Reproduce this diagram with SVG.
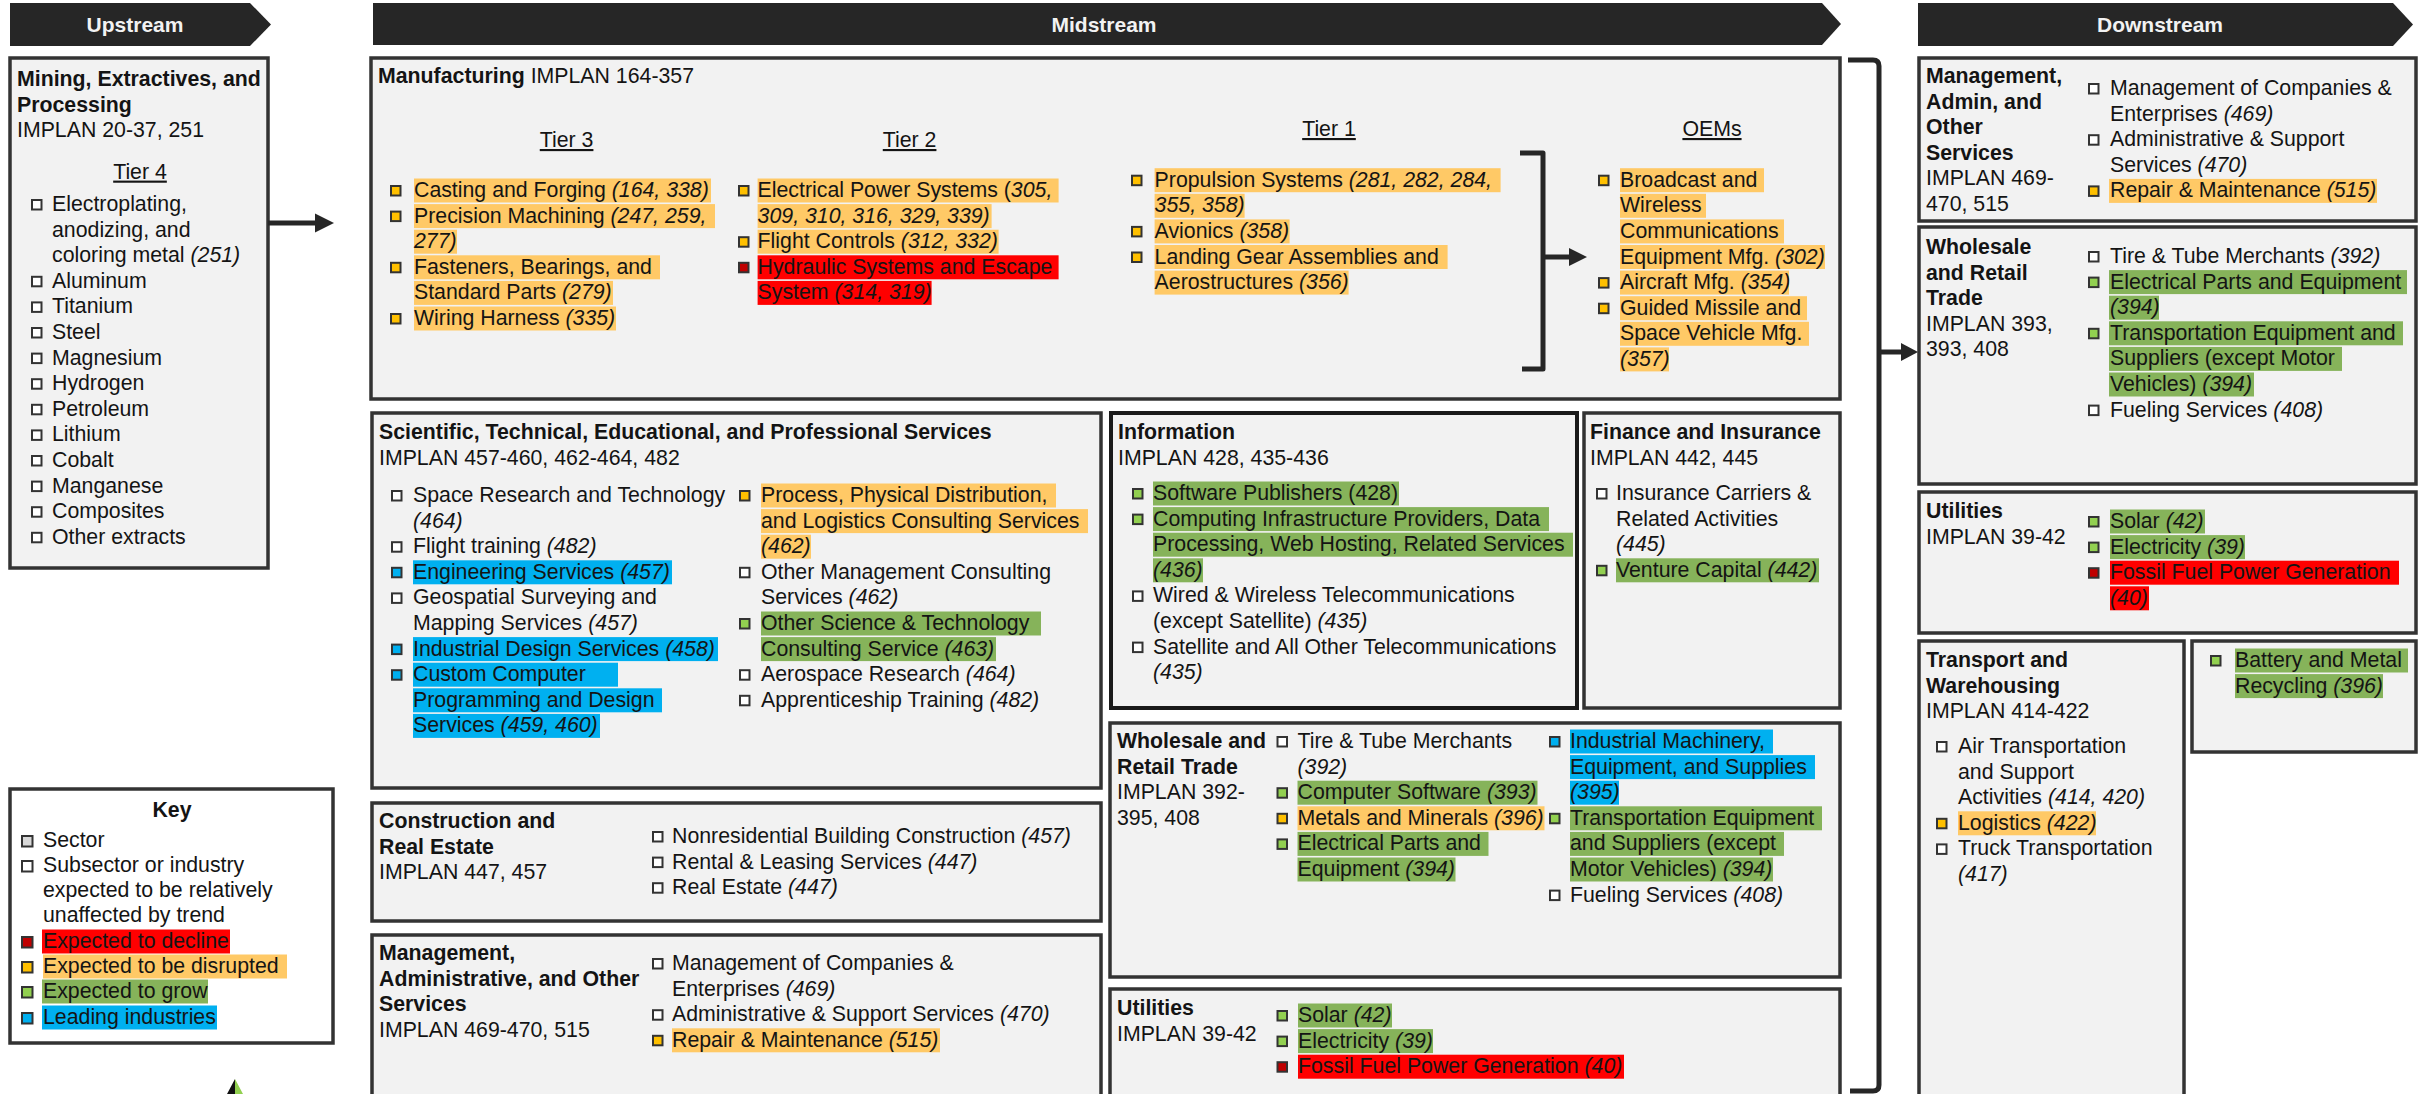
<svg xmlns="http://www.w3.org/2000/svg" width="2425" height="1094" viewBox="0 0 2425 1094">
<style>
text{font-family:"Liberation Sans",Arial,sans-serif;font-size:21.3px;fill:#141414}
.b{font-weight:bold}
.i{font-style:italic}
.u{text-decoration:underline}
.hd{font-weight:bold;font-size:21px;fill:#F2F2F2;text-anchor:middle}
.mid{text-anchor:middle}
.box{fill:#F2F2F2;stroke:#333;stroke-width:3.5}
.boxk{fill:#F2F2F2;stroke:#1a1a1a;stroke-width:4}
.hdr{fill:#262626}
.ho{fill:#FFC966}.hg{fill:#86B35A}.hb{fill:#00B0F0}.hr{fill:#FF0000}
.bu{stroke:#333;stroke-width:2}
.bw{fill:#fff}.bo{fill:#FFC000}.bg{fill:#92D050}.br{fill:#C00000}.bb{fill:#00B0F0}.bs{fill:#D9D9D9}
.con{fill:none;stroke:#262626;stroke-width:5;stroke-linejoin:round}
.ah{fill:#262626}
</style>

<g id="headers">
<polygon class="hdr" points="10,3 250,3 271,24.5 250,46 10,46"/>
<text class="hd" x="135" y="32">Upstream</text>
<polygon class="hdr" points="373,3 1822,3 1841,24 1822,45 373,45"/>
<text class="hd" x="1104" y="32">Midstream</text>
<polygon class="hdr" points="1918,3 2393,3 2413,24.5 2393,46 1918,46"/>
<text class="hd" x="2160" y="32">Downstream</text>
</g>

<g id="upstream-mining">
<rect class="box" x="10" y="58" width="258" height="510"/>
<text class="b" x="17" y="86">Mining, Extractives, and</text>
<text class="b" x="17" y="111.6">Processing</text>
<text x="17" y="137.2">IMPLAN 20-37, 251</text>
<text class="mid u" x="140" y="178.6">Tier 4</text>
<rect class="bu bw" x="32" y="200" width="9.5" height="9.5"/>
<text x="52" y="211">Electroplating,</text>
<text x="52" y="236.6">anodizing, and</text>
<text x="52" y="262.2">coloring metal <tspan class="i">(251)</tspan></text>
<rect class="bu bw" x="32" y="276.8" width="9.5" height="9.5"/>
<text x="52" y="287.8">Aluminum</text>
<rect class="bu bw" x="32" y="302.4" width="9.5" height="9.5"/>
<text x="52" y="313.4">Titanium</text>
<rect class="bu bw" x="32" y="328" width="9.5" height="9.5"/>
<text x="52" y="339">Steel</text>
<rect class="bu bw" x="32" y="353.6" width="9.5" height="9.5"/>
<text x="52" y="364.6">Magnesium</text>
<rect class="bu bw" x="32" y="379.2" width="9.5" height="9.5"/>
<text x="52" y="390.2">Hydrogen</text>
<rect class="bu bw" x="32" y="404.8" width="9.5" height="9.5"/>
<text x="52" y="415.8">Petroleum</text>
<rect class="bu bw" x="32" y="430.4" width="9.5" height="9.5"/>
<text x="52" y="441.4">Lithium</text>
<rect class="bu bw" x="32" y="456" width="9.5" height="9.5"/>
<text x="52" y="467">Cobalt</text>
<rect class="bu bw" x="32" y="481.6" width="9.5" height="9.5"/>
<text x="52" y="492.6">Manganese</text>
<rect class="bu bw" x="32" y="507.2" width="9.5" height="9.5"/>
<text x="52" y="518.2">Composites</text>
<rect class="bu bw" x="32" y="532.8" width="9.5" height="9.5"/>
<text x="52" y="543.8">Other extracts</text>
</g>

<g id="key">
<rect x="10" y="789" width="323" height="254" fill="#fff" stroke="#333" stroke-width="3.5"/>
<text class="b mid" x="172" y="817">Key</text>
<rect class="bu bs" x="22" y="836" width="10.5" height="10.5"/>
<text x="43" y="847">Sector</text>
<rect class="bu bw" x="22" y="861" width="10.5" height="10.5"/>
<text x="43" y="872">Subsector or industry</text>
<text x="43" y="897">expected to be relatively</text>
<text x="43" y="922">unaffected by trend</text>
<rect class="hr" x="42" y="929.5" width="188" height="24"/>
<rect class="bu br" x="22" y="937" width="10.5" height="10.5"/>
<text x="43" y="948">Expected to decline</text>
<rect class="ho" x="43" y="954.5" width="244" height="24"/>
<rect class="bu bo" x="22" y="962" width="10.5" height="10.5"/>
<text x="43" y="973">Expected to be disrupted</text>
<rect class="hg" x="42" y="979.5" width="166" height="24"/>
<rect class="bu bg" x="22" y="987" width="10.5" height="10.5"/>
<text x="43" y="998">Expected to grow</text>
<rect class="hb" x="42" y="1005.5" width="175" height="24"/>
<rect class="bu bb" x="22" y="1013" width="10.5" height="10.5"/>
<text x="43" y="1024">Leading industries</text>
</g>

<g id="marker-arrow">
<polygon points="235,1079 227,1094 235,1094" fill="#111"/>
<polygon points="235,1079 243,1094 235,1094" fill="#92D050"/>
</g>

<g id="manufacturing">
<rect class="box" x="371" y="58" width="1469" height="341"/>
<text x="378" y="83"><tspan class="b">Manufacturing</tspan> IMPLAN 164-357</text>
<text class="mid u" x="566.6" y="147">Tier 3</text>
<text class="mid u" x="909.6" y="147">Tier 2</text>
<text class="mid u" x="1329" y="136">Tier 1</text>
<text class="mid u" x="1712" y="136">OEMs</text>
<!-- Tier 3 -->
<rect class="ho" x="414" y="178.5" width="297" height="24"/>
<rect class="ho" x="414" y="204.1" width="301" height="24"/>
<rect class="ho" x="414" y="229.7" width="43" height="24"/>
<rect class="ho" x="414" y="255.3" width="246" height="24"/>
<rect class="ho" x="414" y="280.9" width="199" height="24"/>
<rect class="ho" x="414" y="306.5" width="202" height="24"/>
<rect class="bu bo" x="391" y="186" width="9.5" height="9.5"/>
<text x="414" y="197">Casting and Forging <tspan class="i">(164, 338)</tspan></text>
<rect class="bu bo" x="391" y="211.6" width="9.5" height="9.5"/>
<text x="414" y="222.6">Precision Machining <tspan class="i">(247, 259,</tspan></text>
<text class="i" x="414" y="248.2">277)</text>
<rect class="bu bo" x="391" y="262.8" width="9.5" height="9.5"/>
<text x="414" y="273.8">Fasteners, Bearings, and</text>
<text x="414" y="299.4">Standard Parts <tspan class="i">(279)</tspan></text>
<rect class="bu bo" x="391" y="314" width="9.5" height="9.5"/>
<text x="414" y="325">Wiring Harness <tspan class="i">(335)</tspan></text>
<!-- Tier 2 -->
<rect class="ho" x="757.6" y="178.5" width="301" height="24"/>
<rect class="ho" x="757.6" y="204.1" width="234" height="24"/>
<rect class="ho" x="757.6" y="229.7" width="241" height="24"/>
<rect class="hr" x="757.6" y="255.3" width="301" height="24"/>
<rect class="hr" x="757.6" y="280.9" width="174" height="24"/>
<rect class="bu bo" x="739" y="186" width="9.5" height="9.5"/>
<text x="757.6" y="197">Electrical Power Systems (<tspan class="i">305,</tspan></text>
<text class="i" x="757.6" y="222.6">309, 310, 316, 329, 339)</text>
<rect class="bu bo" x="739" y="237.2" width="9.5" height="9.5"/>
<text x="757.6" y="248.2">Flight Controls <tspan class="i">(312, 332)</tspan></text>
<rect class="bu br" x="739" y="262.8" width="9.5" height="9.5"/>
<text x="757.6" y="273.8">Hydraulic Systems and Escape</text>
<text x="757.6" y="299.4">System <tspan class="i">(314, 319)</tspan></text>
<!-- Tier 1 -->
<rect class="ho" x="1154.6" y="168.2" width="346" height="24"/>
<rect class="ho" x="1154.6" y="193.8" width="90" height="24"/>
<rect class="ho" x="1154.6" y="219.4" width="135" height="24"/>
<rect class="ho" x="1154.6" y="245" width="293" height="24"/>
<rect class="ho" x="1154.6" y="270.6" width="194" height="24"/>
<rect class="bu bo" x="1132" y="175.7" width="9.5" height="9.5"/>
<text x="1154.6" y="186.7">Propulsion Systems <tspan class="i">(281, 282, 284,</tspan></text>
<text class="i" x="1154.6" y="212.3">355, 358)</text>
<rect class="bu bo" x="1132" y="226.9" width="9.5" height="9.5"/>
<text x="1154.6" y="237.9">Avionics <tspan class="i">(358)</tspan></text>
<rect class="bu bo" x="1132" y="252.5" width="9.5" height="9.5"/>
<text x="1154.6" y="263.5">Landing Gear Assemblies and</text>
<text x="1154.6" y="289.1">Aerostructures <tspan class="i">(356)</tspan></text>
<!-- OEMs -->
<rect class="ho" x="1620" y="168.2" width="144" height="24"/>
<rect class="ho" x="1620" y="193.8" width="86" height="24"/>
<rect class="ho" x="1620" y="219.4" width="164" height="24"/>
<rect class="ho" x="1620" y="245" width="205" height="24"/>
<rect class="ho" x="1620" y="270.6" width="169" height="24"/>
<rect class="ho" x="1620" y="296.2" width="187" height="24"/>
<rect class="ho" x="1620" y="321.8" width="189" height="24"/>
<rect class="ho" x="1620" y="347.4" width="49" height="24"/>
<rect class="bu bo" x="1599" y="175.7" width="9.5" height="9.5"/>
<text x="1620" y="186.7">Broadcast and</text>
<text x="1620" y="212.3">Wireless</text>
<text x="1620" y="237.9">Communications</text>
<text x="1620" y="263.5">Equipment Mfg. <tspan class="i">(302)</tspan></text>
<rect class="bu bo" x="1599" y="278.1" width="9.5" height="9.5"/>
<text x="1620" y="289.1">Aircraft Mfg. <tspan class="i">(354)</tspan></text>
<rect class="bu bo" x="1599" y="303.7" width="9.5" height="9.5"/>
<text x="1620" y="314.7">Guided Missile and</text>
<text x="1620" y="340.3">Space Vehicle Mfg.</text>
<text class="i" x="1620" y="365.9">(357)</text>
</g>

<g id="sci-tech">
<rect class="box" x="372" y="413" width="729" height="375"/>
<text class="b" x="379" y="439">Scientific, Technical, Educational, and Professional Services</text>
<text x="379" y="465">IMPLAN 457-460, 462-464, 482</text>
<rect class="hb" x="413" y="560.3" width="259" height="24"/>
<rect class="hb" x="413" y="637.1" width="305" height="24"/>
<rect class="hb" x="413" y="662.7" width="205" height="24"/>
<rect class="hb" x="413" y="688.3" width="249" height="24"/>
<rect class="hb" x="413" y="713.9" width="187" height="24"/>
<rect class="ho" x="761" y="483.5" width="295" height="24"/>
<rect class="ho" x="761" y="509.1" width="327" height="24"/>
<rect class="ho" x="761" y="534.7" width="50" height="24"/>
<rect class="hg" x="761" y="611.5" width="280" height="24"/>
<rect class="hg" x="761" y="637.1" width="235" height="24"/>
<rect class="bu bw" x="392" y="491" width="9.5" height="9.5"/>
<text x="413" y="502">Space Research and Technology</text>
<text class="i" x="413" y="527.6">(464)</text>
<rect class="bu bw" x="392" y="542.2" width="9.5" height="9.5"/>
<text x="413" y="553.2">Flight training <tspan class="i">(482)</tspan></text>
<rect class="bu bb" x="392" y="567.8" width="9.5" height="9.5"/>
<text x="413" y="578.8">Engineering Services <tspan class="i">(457)</tspan></text>
<rect class="bu bw" x="392" y="593.4" width="9.5" height="9.5"/>
<text x="413" y="604.4">Geospatial Surveying and</text>
<text x="413" y="630">Mapping Services <tspan class="i">(457)</tspan></text>
<rect class="bu bb" x="392" y="644.6" width="9.5" height="9.5"/>
<text x="413" y="655.6">Industrial Design Services <tspan class="i">(458)</tspan></text>
<rect class="bu bb" x="392" y="670.2" width="9.5" height="9.5"/>
<text x="413" y="681.2">Custom Computer</text>
<text x="413" y="706.8">Programming and Design</text>
<text x="413" y="732.4">Services <tspan class="i">(459, 460)</tspan></text>
<rect class="bu bo" x="740" y="491" width="9.5" height="9.5"/>
<text x="761" y="502">Process, Physical Distribution,</text>
<text x="761" y="527.6">and Logistics Consulting Services</text>
<text class="i" x="761" y="553.2">(462)</text>
<rect class="bu bw" x="740" y="567.8" width="9.5" height="9.5"/>
<text x="761" y="578.8">Other Management Consulting</text>
<text x="761" y="604.4">Services <tspan class="i">(462)</tspan></text>
<rect class="bu bg" x="740" y="619" width="9.5" height="9.5"/>
<text x="761" y="630">Other Science &amp; Technology</text>
<text x="761" y="655.6">Consulting Service <tspan class="i">(463)</tspan></text>
<rect class="bu bw" x="740" y="670.2" width="9.5" height="9.5"/>
<text x="761" y="681.2">Aerospace Research <tspan class="i">(464)</tspan></text>
<rect class="bu bw" x="740" y="695.8" width="9.5" height="9.5"/>
<text x="761" y="706.8">Apprenticeship Training <tspan class="i">(482)</tspan></text>
</g>

<g id="information">
<rect class="boxk" x="1111" y="413" width="466" height="295"/>
<text class="b" x="1118" y="439">Information</text>
<text x="1118" y="465">IMPLAN 428, 435-436</text>
<rect class="hg" x="1153" y="481.5" width="246" height="24"/>
<rect class="hg" x="1153" y="507.1" width="396" height="24"/>
<rect class="hg" x="1153" y="532.7" width="420" height="24"/>
<rect class="hg" x="1153" y="558.3" width="50" height="24"/>
<rect class="bu bg" x="1133" y="489" width="9.5" height="9.5"/>
<text x="1153" y="500">Software Publishers (428)</text>
<rect class="bu bg" x="1133" y="514.6" width="9.5" height="9.5"/>
<text x="1153" y="525.6">Computing Infrastructure Providers, Data</text>
<text x="1153" y="551.2">Processing, Web Hosting, Related Services</text>
<text class="i" x="1153" y="576.8">(436)</text>
<rect class="bu bw" x="1133" y="591.4" width="9.5" height="9.5"/>
<text x="1153" y="602.4">Wired &amp; Wireless Telecommunications</text>
<text x="1153" y="628">(except Satellite) <tspan class="i">(435)</tspan></text>
<rect class="bu bw" x="1133" y="642.6" width="9.5" height="9.5"/>
<text x="1153" y="653.6">Satellite and All Other Telecommunications</text>
<text class="i" x="1153" y="679.2">(435)</text>
</g>

<g id="finance">
<rect class="box" x="1584" y="413" width="256" height="295"/>
<text class="b" x="1590" y="439">Finance and Insurance</text>
<text x="1590" y="465">IMPLAN 442, 445</text>
<rect class="hg" x="1616" y="558.3" width="203" height="24"/>
<rect class="bu bw" x="1597" y="489" width="9.5" height="9.5"/>
<text x="1616" y="500">Insurance Carriers &amp;</text>
<text x="1616" y="525.6">Related Activities</text>
<text class="i" x="1616" y="551.2">(445)</text>
<rect class="bu bg" x="1597" y="565.8" width="9.5" height="9.5"/>
<text x="1616" y="576.8">Venture Capital <tspan class="i">(442)</tspan></text>
</g>

<g id="construction">
<rect class="box" x="372" y="803" width="729" height="118"/>
<text class="b" x="379" y="828">Construction and</text>
<text class="b" x="379" y="853.6">Real Estate</text>
<text x="379" y="879.2">IMPLAN 447, 457</text>
<rect class="bu bw" x="653" y="832" width="9.5" height="9.5"/>
<text x="672" y="843">Nonresidential Building Construction <tspan class="i">(457)</tspan></text>
<rect class="bu bw" x="653" y="857.6" width="9.5" height="9.5"/>
<text x="672" y="868.6">Rental &amp; Leasing Services <tspan class="i">(447)</tspan></text>
<rect class="bu bw" x="653" y="883.2" width="9.5" height="9.5"/>
<text x="672" y="894.2">Real Estate <tspan class="i">(447)</tspan></text>
</g>

<g id="management-mid">
<rect class="box" x="372" y="935" width="729" height="200"/>
<text class="b" x="379" y="960">Management,</text>
<text class="b" x="379" y="985.6">Administrative, and Other</text>
<text class="b" x="379" y="1011.2">Services</text>
<text x="379" y="1036.8">IMPLAN 469-470, 515</text>
<rect class="ho" x="672" y="1028.3" width="268" height="24"/>
<rect class="bu bw" x="653" y="959" width="9.5" height="9.5"/>
<text x="672" y="970">Management of Companies &amp;</text>
<text x="672" y="995.6">Enterprises <tspan class="i">(469)</tspan></text>
<rect class="bu bw" x="653" y="1010.2" width="9.5" height="9.5"/>
<text x="672" y="1021.2">Administrative &amp; Support Services <tspan class="i">(470)</tspan></text>
<rect class="bu bo" x="653" y="1035.8" width="9.5" height="9.5"/>
<text x="672" y="1046.8">Repair &amp; Maintenance <tspan class="i">(515)</tspan></text>
</g>

<g id="wholesale-mid">
<rect class="box" x="1110" y="723" width="730" height="254"/>
<text class="b" x="1117" y="748">Wholesale and</text>
<text class="b" x="1117" y="773.6">Retail Trade</text>
<text x="1117" y="799.2">IMPLAN 392-</text>
<text x="1117" y="824.8">395, 408</text>
<rect class="hg" x="1297.5" y="780.7" width="240" height="24"/>
<rect class="ho" x="1297.5" y="806.3" width="247" height="24"/>
<rect class="hg" x="1297.5" y="831.9" width="191" height="24"/>
<rect class="hg" x="1297.5" y="857.5" width="158" height="24"/>
<rect class="hb" x="1570" y="729.5" width="203" height="24"/>
<rect class="hb" x="1570" y="755.1" width="245" height="24"/>
<rect class="hb" x="1570" y="780.7" width="49" height="24"/>
<rect class="hg" x="1570" y="806.3" width="252" height="24"/>
<rect class="hg" x="1570" y="831.9" width="214" height="24"/>
<rect class="hg" x="1570" y="857.5" width="203" height="24"/>
<rect class="bu bw" x="1277.5" y="737" width="9.5" height="9.5"/>
<text x="1297.5" y="748">Tire &amp; Tube Merchants</text>
<text class="i" x="1297.5" y="773.6">(392)</text>
<rect class="bu bg" x="1277.5" y="788.2" width="9.5" height="9.5"/>
<text x="1297.5" y="799.2">Computer Software <tspan class="i">(393)</tspan></text>
<rect class="bu bo" x="1277.5" y="813.8" width="9.5" height="9.5"/>
<text x="1297.5" y="824.8">Metals and Minerals <tspan class="i">(396)</tspan></text>
<rect class="bu bg" x="1277.5" y="839.4" width="9.5" height="9.5"/>
<text x="1297.5" y="850.4">Electrical Parts and</text>
<text x="1297.5" y="876">Equipment <tspan class="i">(394)</tspan></text>
<rect class="bu bb" x="1550" y="737" width="9.5" height="9.5"/>
<text x="1570" y="748">Industrial Machinery,</text>
<text x="1570" y="773.6">Equipment, and Supplies</text>
<text class="i" x="1570" y="799.2">(395)</text>
<rect class="bu bg" x="1550" y="813.8" width="9.5" height="9.5"/>
<text x="1570" y="824.8">Transportation Equipment</text>
<text x="1570" y="850.4">and Suppliers (except</text>
<text x="1570" y="876">Motor Vehicles) <tspan class="i">(394)</tspan></text>
<rect class="bu bw" x="1550" y="890.6" width="9.5" height="9.5"/>
<text x="1570" y="901.6">Fueling Services <tspan class="i">(408)</tspan></text>
</g>

<g id="utilities-mid">
<rect class="box" x="1110" y="989" width="730" height="150"/>
<text class="b" x="1117" y="1015">Utilities</text>
<text x="1117" y="1040.6">IMPLAN 39-42</text>
<rect class="hg" x="1298" y="1003.5" width="94" height="24"/>
<rect class="hg" x="1298" y="1029.1" width="135" height="24"/>
<rect class="hr" x="1298" y="1054.7" width="326" height="24"/>
<rect class="bu bg" x="1277.5" y="1011" width="9.5" height="9.5"/>
<text x="1298" y="1022">Solar <tspan class="i">(42)</tspan></text>
<rect class="bu bg" x="1277.5" y="1036.6" width="9.5" height="9.5"/>
<text x="1298" y="1047.6">Electricity <tspan class="i">(39)</tspan></text>
<rect class="bu br" x="1277.5" y="1062.2" width="9.5" height="9.5"/>
<text x="1298" y="1073.2">Fossil Fuel Power Generation <tspan class="i">(40)</tspan></text>
</g>

<g id="management-down">
<rect class="box" x="1919" y="58" width="497" height="163"/>
<text class="b" x="1926" y="83">Management,</text>
<text class="b" x="1926" y="108.6">Admin, and</text>
<text class="b" x="1926" y="134.2">Other</text>
<text class="b" x="1926" y="159.8">Services</text>
<text x="1926" y="185.4">IMPLAN 469-</text>
<text x="1926" y="211">470, 515</text>
<rect class="ho" x="2109" y="178.9" width="268" height="24"/>
<rect class="bu bw" x="2089" y="84" width="9.5" height="9.5"/>
<text x="2110" y="95">Management of Companies &amp;</text>
<text x="2110" y="120.6">Enterprises <tspan class="i">(469)</tspan></text>
<rect class="bu bw" x="2089" y="135.2" width="9.5" height="9.5"/>
<text x="2110" y="146.2">Administrative &amp; Support</text>
<text x="2110" y="171.8">Services <tspan class="i">(470)</tspan></text>
<rect class="bu bo" x="2089" y="186.4" width="9.5" height="9.5"/>
<text x="2110" y="197.4">Repair &amp; Maintenance <tspan class="i">(515)</tspan></text>
</g>

<g id="wholesale-down">
<rect class="box" x="1919" y="227" width="497" height="257"/>
<text class="b" x="1926" y="254">Wholesale</text>
<text class="b" x="1926" y="279.6">and Retail</text>
<text class="b" x="1926" y="305.2">Trade</text>
<text x="1926" y="330.8">IMPLAN 393,</text>
<text x="1926" y="356.4">393, 408</text>
<rect class="hg" x="2109" y="270.1" width="298" height="24"/>
<rect class="hg" x="2109" y="295.7" width="50" height="24"/>
<rect class="hg" x="2109" y="321.3" width="294" height="24"/>
<rect class="hg" x="2109" y="346.9" width="233" height="24"/>
<rect class="hg" x="2109" y="372.5" width="145" height="24"/>
<rect class="bu bw" x="2089" y="252" width="9.5" height="9.5"/>
<text x="2110" y="263">Tire &amp; Tube Merchants <tspan class="i">(392)</tspan></text>
<rect class="bu bg" x="2089" y="277.6" width="9.5" height="9.5"/>
<text x="2110" y="288.6">Electrical Parts and Equipment</text>
<text class="i" x="2110" y="314.2">(394)</text>
<rect class="bu bg" x="2089" y="328.8" width="9.5" height="9.5"/>
<text x="2110" y="339.8">Transportation Equipment and</text>
<text x="2110" y="365.4">Suppliers (except Motor</text>
<text x="2110" y="391">Vehicles) <tspan class="i">(394)</tspan></text>
<rect class="bu bw" x="2089" y="405.6" width="9.5" height="9.5"/>
<text x="2110" y="416.6">Fueling Services <tspan class="i">(408)</tspan></text>
</g>

<g id="utilities-down">
<rect class="box" x="1919" y="492" width="497" height="141"/>
<text class="b" x="1926" y="518">Utilities</text>
<text x="1926" y="543.6">IMPLAN 39-42</text>
<rect class="hg" x="2110" y="509.5" width="95" height="24"/>
<rect class="hg" x="2110" y="535.1" width="135" height="24"/>
<rect class="hr" x="2110" y="560.7" width="289" height="24"/>
<rect class="hr" x="2110" y="586.3" width="39" height="24"/>
<rect class="bu bg" x="2089" y="517" width="9.5" height="9.5"/>
<text x="2110" y="528">Solar <tspan class="i">(42)</tspan></text>
<rect class="bu bg" x="2089" y="542.6" width="9.5" height="9.5"/>
<text x="2110" y="553.6">Electricity <tspan class="i">(39)</tspan></text>
<rect class="bu br" x="2089" y="568.2" width="9.5" height="9.5"/>
<text x="2110" y="579.2">Fossil Fuel Power Generation</text>
<text class="i" x="2110" y="604.8">(40)</text>
</g>

<g id="transport">
<rect class="box" x="1919" y="641" width="265" height="460"/>
<text class="b" x="1926" y="667">Transport and</text>
<text class="b" x="1926" y="692.6">Warehousing</text>
<text x="1926" y="718.2">IMPLAN 414-422</text>
<rect class="ho" x="1958" y="811.3" width="138" height="24"/>
<rect class="bu bw" x="1937" y="742" width="9.5" height="9.5"/>
<text x="1958" y="753">Air Transportation</text>
<text x="1958" y="778.6">and Support</text>
<text x="1958" y="804.2">Activities <tspan class="i">(414, 420)</tspan></text>
<rect class="bu bo" x="1937" y="818.8" width="9.5" height="9.5"/>
<text x="1958" y="829.8">Logistics <tspan class="i">(422)</tspan></text>
<rect class="bu bw" x="1937" y="844.4" width="9.5" height="9.5"/>
<text x="1958" y="855.4">Truck Transportation</text>
<text class="i" x="1958" y="881">(417)</text>
</g>

<g id="recycling">
<rect class="box" x="2192" y="641" width="224" height="111"/>
<rect class="hg" x="2235" y="648.5" width="173" height="24"/>
<rect class="hg" x="2235" y="674.1" width="148" height="24"/>
<rect class="bu bg" x="2211" y="656" width="9.5" height="9.5"/>
<text x="2235" y="667">Battery and Metal</text>
<text x="2235" y="692.6">Recycling <tspan class="i">(396)</tspan></text>
</g>

<g id="connectors">
<line class="con" x1="268" y1="223" x2="318" y2="223"/>
<polygon class="ah" points="315,213.5 334,223 315,232.5"/>
<path class="con" d="M1520,153 H1543 V369 H1522"/>
<line class="con" x1="1543" y1="257" x2="1572" y2="257"/>
<polygon class="ah" points="1569,248 1587,257 1569,266"/>
<path class="con" d="M1848,60 H1873 Q1879,60 1879,66 V1085 Q1879,1091 1873,1091 H1850"/>
<line class="con" x1="1879" y1="352" x2="1904" y2="352"/>
<polygon class="ah" points="1901,343 1918,352 1901,361"/>
</g>
</svg>
